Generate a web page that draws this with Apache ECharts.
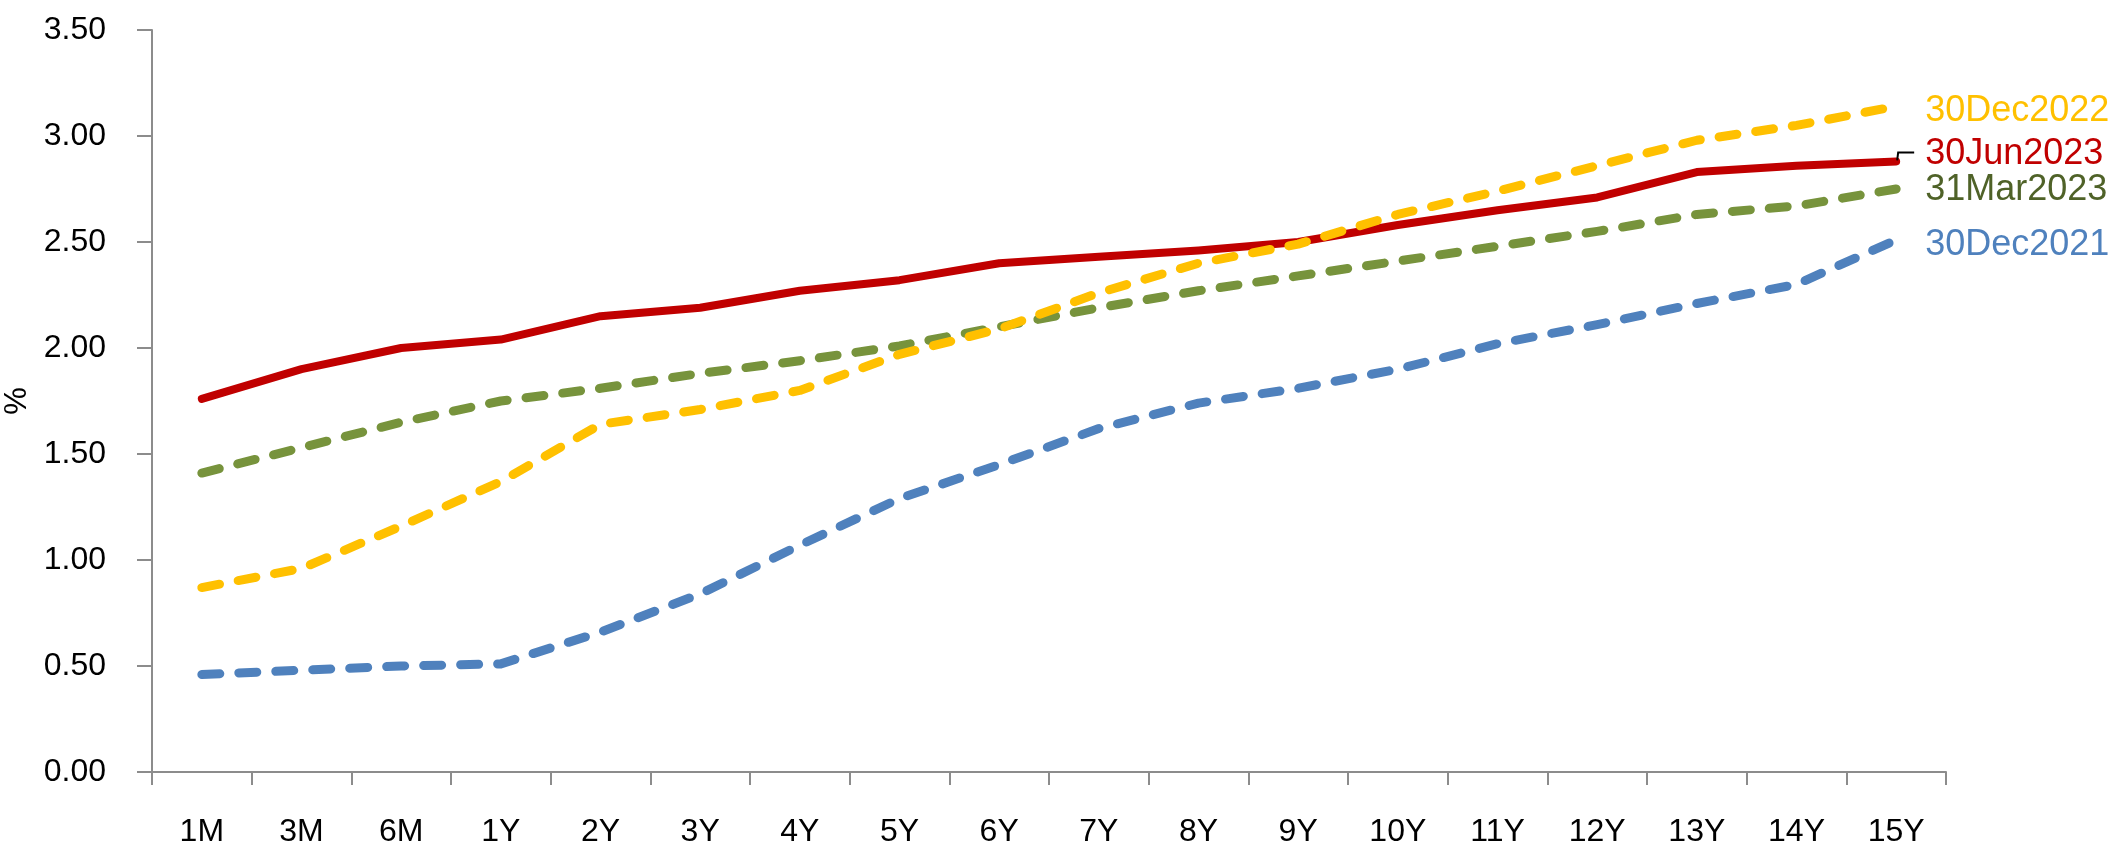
<!DOCTYPE html>
<html>
<head>
<meta charset="utf-8">
<script src="https://cdn.jsdelivr.net/npm/echarts@6/dist/echarts.min.js"></script>
<style>
  html, body { margin: 0; padding: 0; background: #fff; }
  #chart { width: 2116px; height: 850px; }
</style>
</head>
<body>
<div id="chart"></div>
<script>
// Tenors on the category axis
const tenors = ['1M','3M','6M','1Y','2Y','3Y','4Y','5Y','6Y','7Y','8Y','9Y','10Y','11Y','12Y','13Y','14Y','15Y'];

// Yield curves (%) by date
const dec2021 = [0.46,0.48,0.50,0.51,0.66,0.84,1.07,1.29,1.45,1.62,1.74,1.81,1.90,2.02,2.11,2.21,2.30,2.51];
const mar2023 = [1.41,1.53,1.65,1.75,1.81,1.88,1.94,2.01,2.10,2.19,2.27,2.34,2.41,2.48,2.55,2.63,2.67,2.75];
const jun2023 = [1.76,1.90,2.00,2.04,2.15,2.19,2.27,2.32,2.40,2.43,2.46,2.50,2.58,2.65,2.71,2.83,2.86,2.88];
const dec2022 = [0.87,0.96,1.16,1.37,1.64,1.71,1.80,1.97,2.09,2.26,2.40,2.49,2.63,2.74,2.86,2.98,3.05,3.14];

// Series names used as end labels
const names = ['30Dec2021', '31Mar2023', '30Jun2023', '30Dec2022'];

const FONT = "'Liberation Sans', Arial, sans-serif";
const AXIS_GREY = '#8c8c8c';

function curve(name, data, color, textColor, dashed, dy) {
  return {
    name: name,
    type: 'line',
    data: data,
    showSymbol: false,
    symbol: 'none',
    smooth: false,
    lineStyle: {
      color: color,
      width: dashed ? 9 : 8,
      type: dashed ? [18, 19] : 'solid',
      cap: 'round',
      join: 'round'
    },
    itemStyle: { color: color },
    endLabel: {
      show: true,
      formatter: '{a}',
      distance: 0,
      offset: [29, dy],
      color: textColor,
      fontFamily: FONT,
      fontSize: 36
    },
    emphasis: { disabled: true }
  };
}

const chart = echarts.init(document.getElementById('chart'), null, { renderer: 'canvas' });

chart.setOption({
  animation: false,
  backgroundColor: '#ffffff',
  grid: { left: 152, right: 170, top: 30, bottom: 78, containLabel: false, outerBoundsMode: 'none' },
  xAxis: {
    type: 'category',
    data: tenors,
    boundaryGap: true,
    axisLine: { show: true, lineStyle: { color: AXIS_GREY, width: 2 } },
    axisTick: { show: true, alignWithLabel: false, length: 13, lineStyle: { color: AXIS_GREY, width: 2 } },
    axisLabel: { color: '#000', fontFamily: FONT, fontSize: 32, margin: 44 },
    splitLine: { show: false }
  },
  yAxis: {
    type: 'value',
    min: 0,
    max: 3.5,
    interval: 0.5,
    name: '%',
    nameLocation: 'middle',
    nameGap: 113,
    nameTextStyle: { color: '#000', fontFamily: FONT, fontSize: 31 },
    axisLine: { show: true, lineStyle: { color: AXIS_GREY, width: 2 } },
    axisTick: { show: true, inside: false, length: 15, lineStyle: { color: AXIS_GREY, width: 2 } },
    axisLabel: {
      color: '#000', fontFamily: FONT, fontSize: 32, margin: 46,
      formatter: v => v.toFixed(2)
    },
    splitLine: { show: false }
  },
  series: [
    curve(names[0], dec2021, '#4F81BD', '#4F81BD', true, 5),
    curve(names[1], mar2023, '#77933C', '#4F6228', true, 1),
    curve(names[2], jun2023, '#C00000', '#C00000', false, -7),
    curve(names[3], dec2022, '#FFC000', '#FFC000', true, 5)
  ]
});

// Small leader line from the last 30Jun2023 point to its label
const lastIdx = tenors.length - 1;
const p = chart.convertToPixel({ seriesIndex: 2 }, [lastIdx, jun2023[lastIdx]]);
chart.setOption({
  graphic: [{
    type: 'polyline',
    silent: true,
    z: 100,
    shape: { points: [[p[0] + 1, p[1] - 1], [p[0] + 2, p[1] - 9], [p[0] + 18, p[1] - 9]] },
    style: { stroke: '#000', lineWidth: 2, fill: null }
  }]
});
</script>
</body>
</html>
